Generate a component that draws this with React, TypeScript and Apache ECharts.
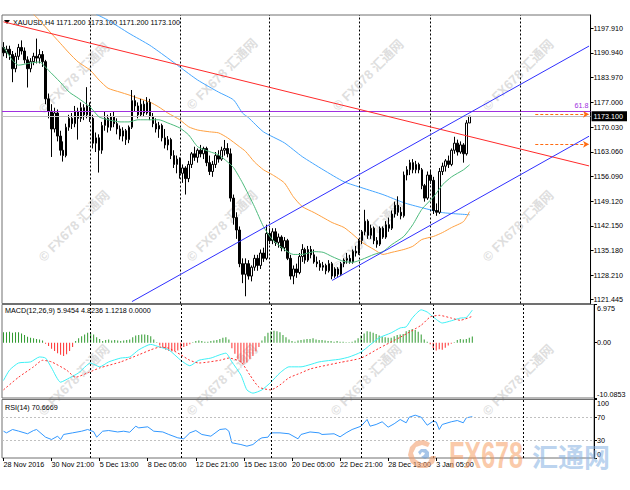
import React, { useEffect, useRef } from "react";
import * as echarts from "echarts";

// ---------------- data ----------------
const symbolTitle = "XAUUSD,H4 1171.200 1173.100 1171.200 1173.100";
const macdTitle = "MACD(12,26,9) 5.9454 4.8236 1.1218 0.0000";
const rsiTitle = "RSI(14) 70.6669";
const fibLabel = "61.8";
const xTickLabels = [
  "28 Nov 2016", "30 Nov 21:00", "5 Dec 13:00", "8 Dec 05:00", "12 Dec 21:00",
  "15 Dec 13:00", "20 Dec 05:00", "22 Dec 21:00", "28 Dec 13:00", "3 Jan 05:00",
];
const priceTicks = [1121.445, 1128.21, 1135.18, 1142.15, 1149.12, 1156.09, 1163.06, 1170.03, 1177.0, 1183.97, 1190.94, 1197.91];
const lastPrice = 1173.1;
const fibLevel = 1174.57;
const arrowLevels = [1173.64, 1165.18];
const macdTicks = [-10.0853, 0, 6.975];
const macdTickLabels = ["-10.0853", "0.00", "6.975"];
const rsiTicks = [0, 30, 70, 100];
const rsiLevels = [30, 70];
const gridLineBars = [29, 59, 89, 119, 143, 173];

// [open, high, low, close]
const ohlc: number[][] = [
  [1192.5, 1194.0, 1190.0, 1191.0], [1191.0, 1193.0, 1189.5, 1192.0], [1192.0, 1193.0, 1189.0, 1190.5],
  [1190.5, 1191.5, 1182.7, 1186.5], [1186.5, 1191.0, 1185.5, 1190.0], [1190.0, 1193.5, 1189.0, 1192.5],
  [1192.5, 1194.5, 1190.5, 1191.5], [1191.5, 1192.5, 1188.0, 1189.0], [1189.0, 1190.0, 1181.2, 1186.5],
  [1186.5, 1189.5, 1185.5, 1188.5], [1188.5, 1191.0, 1187.5, 1190.0], [1190.0, 1195.0, 1188.0, 1189.5],
  [1189.5, 1192.0, 1188.0, 1190.5], [1190.5, 1191.5, 1187.0, 1188.5], [1188.5, 1189.0, 1176.5, 1178.0],
  [1178.0, 1179.5, 1172.5, 1174.5], [1174.5, 1176.5, 1161.6, 1169.5], [1169.5, 1175.5, 1168.5, 1174.0],
  [1174.0, 1175.0, 1166.0, 1167.5], [1167.5, 1169.0, 1162.0, 1163.5], [1163.5, 1166.0, 1160.3, 1162.0],
  [1162.0, 1171.0, 1161.5, 1170.0], [1170.0, 1173.5, 1169.0, 1172.5], [1172.5, 1174.0, 1169.5, 1171.0],
  [1171.0, 1176.0, 1170.0, 1174.5], [1174.5, 1175.5, 1166.5, 1172.5], [1172.5, 1177.0, 1171.5, 1175.5],
  [1175.5, 1176.5, 1172.0, 1173.5], [1173.5, 1181.3, 1172.5, 1176.0], [1176.0, 1177.0, 1171.5, 1172.5],
  [1172.5, 1173.5, 1164.0, 1165.5], [1165.5, 1168.5, 1163.0, 1167.0], [1167.0, 1168.0, 1157.2, 1163.5],
  [1163.5, 1171.5, 1162.5, 1170.5], [1170.5, 1174.5, 1169.0, 1172.5], [1172.5, 1173.5, 1168.5, 1170.0],
  [1170.0, 1174.0, 1169.0, 1173.0], [1173.0, 1174.5, 1170.0, 1171.0], [1171.0, 1172.5, 1168.0, 1169.5],
  [1169.5, 1170.5, 1166.5, 1167.5], [1167.5, 1170.0, 1166.0, 1169.0], [1169.0, 1169.5, 1165.0, 1166.5],
  [1166.5, 1170.5, 1165.5, 1170.0], [1170.0, 1180.5, 1169.5, 1177.5], [1177.5, 1179.0, 1174.5, 1176.0],
  [1176.0, 1177.0, 1172.5, 1173.5], [1173.5, 1178.0, 1173.0, 1176.5], [1176.5, 1177.5, 1173.0, 1174.0],
  [1174.0, 1178.5, 1173.5, 1177.0], [1177.0, 1178.0, 1172.0, 1173.0], [1173.0, 1174.0, 1170.0, 1171.0],
  [1171.0, 1172.5, 1168.5, 1169.5], [1169.5, 1171.5, 1167.0, 1170.5], [1170.5, 1171.0, 1166.0, 1167.0],
  [1167.0, 1169.5, 1164.0, 1165.0], [1165.0, 1167.5, 1163.5, 1166.5], [1166.5, 1167.0, 1161.0, 1162.0],
  [1162.0, 1163.5, 1158.5, 1159.5], [1159.5, 1162.0, 1157.0, 1161.0], [1161.0, 1161.5, 1155.5, 1157.0],
  [1157.0, 1159.5, 1154.3, 1158.5], [1158.5, 1159.0, 1151.0, 1155.5], [1155.5, 1160.5, 1154.5, 1159.5],
  [1159.5, 1163.0, 1158.5, 1162.5], [1162.5, 1164.5, 1160.5, 1161.5], [1161.5, 1164.0, 1160.0, 1163.5],
  [1163.5, 1165.0, 1161.5, 1162.5], [1162.5, 1164.5, 1161.0, 1164.0], [1164.0, 1164.5, 1159.0, 1160.0],
  [1160.0, 1162.0, 1156.5, 1157.5], [1157.5, 1160.5, 1156.0, 1159.5], [1159.5, 1163.0, 1158.5, 1162.0],
  [1162.0, 1163.5, 1160.0, 1161.0], [1161.0, 1164.5, 1160.5, 1163.5], [1163.5, 1166.4, 1162.0, 1164.0],
  [1164.0, 1165.5, 1161.5, 1162.5], [1162.5, 1164.0, 1149.0, 1150.0], [1150.0, 1151.0, 1142.5, 1144.5],
  [1144.5, 1146.0, 1138.5, 1141.0], [1141.0, 1142.0, 1130.5, 1131.5], [1131.5, 1133.0, 1126.0, 1128.5],
  [1128.5, 1133.0, 1122.3, 1131.5], [1131.5, 1132.5, 1127.0, 1128.0], [1128.0, 1131.0, 1126.5, 1130.5],
  [1130.5, 1134.0, 1129.5, 1133.0], [1133.0, 1134.0, 1129.5, 1131.0], [1131.0, 1135.5, 1130.0, 1134.5],
  [1134.5, 1136.0, 1132.0, 1133.0], [1133.0, 1142.5, 1132.5, 1140.0], [1140.0, 1141.5, 1137.0, 1138.0],
  [1138.0, 1141.5, 1137.0, 1140.5], [1140.5, 1141.5, 1136.5, 1137.5], [1137.5, 1140.0, 1136.0, 1139.0],
  [1139.0, 1139.5, 1135.0, 1136.0], [1136.0, 1139.0, 1135.0, 1138.0], [1138.0, 1138.5, 1132.5, 1133.0],
  [1133.0, 1134.0, 1127.0, 1128.0], [1128.0, 1131.0, 1125.7, 1130.0], [1130.0, 1131.5, 1127.5, 1129.0],
  [1129.0, 1134.5, 1128.5, 1133.5], [1133.5, 1137.0, 1132.0, 1135.5], [1135.5, 1136.0, 1131.5, 1132.5],
  [1132.5, 1136.5, 1132.0, 1135.5], [1135.5, 1136.5, 1133.0, 1134.0], [1134.0, 1135.5, 1131.5, 1132.0],
  [1132.0, 1133.5, 1130.5, 1131.5], [1131.5, 1132.5, 1129.5, 1130.5], [1130.5, 1132.0, 1129.5, 1131.0],
  [1131.0, 1131.5, 1128.5, 1129.5], [1129.5, 1132.5, 1129.0, 1131.5], [1131.5, 1132.0, 1127.1, 1128.0],
  [1128.0, 1130.5, 1127.5, 1130.0], [1130.0, 1130.5, 1127.8, 1128.5], [1128.5, 1132.0, 1128.0, 1131.5],
  [1131.5, 1133.0, 1130.5, 1132.5], [1132.5, 1134.5, 1131.5, 1133.0], [1133.0, 1134.0, 1131.5, 1132.0],
  [1132.0, 1135.5, 1131.5, 1135.0], [1135.0, 1136.5, 1133.5, 1134.5], [1134.5, 1138.5, 1134.0, 1138.0],
  [1138.0, 1141.0, 1137.0, 1140.5], [1140.5, 1146.7, 1139.5, 1143.5], [1143.5, 1144.0, 1138.5, 1139.5],
  [1139.5, 1142.5, 1138.5, 1141.5], [1141.5, 1142.0, 1137.0, 1138.0], [1138.0, 1139.0, 1136.0, 1137.0],
  [1137.0, 1142.0, 1136.5, 1141.5], [1141.5, 1142.0, 1138.5, 1139.0], [1139.0, 1143.5, 1138.5, 1142.5],
  [1142.5, 1144.5, 1140.5, 1141.5], [1141.5, 1146.5, 1141.0, 1145.5], [1145.5, 1149.0, 1144.5, 1148.0],
  [1148.0, 1150.5, 1145.0, 1146.0], [1146.0, 1147.5, 1144.0, 1145.0], [1145.0, 1157.5, 1144.5, 1156.5],
  [1156.5, 1159.0, 1155.0, 1158.0], [1158.0, 1160.8, 1156.5, 1160.0], [1160.0, 1161.0, 1157.0, 1158.0],
  [1158.0, 1160.5, 1157.0, 1159.5], [1159.5, 1160.0, 1157.0, 1158.0], [1158.0, 1158.5, 1152.5, 1153.5],
  [1153.5, 1154.0, 1149.0, 1150.0], [1150.0, 1157.5, 1149.5, 1156.5], [1156.5, 1158.0, 1154.0, 1155.0],
  [1155.0, 1156.0, 1145.5, 1146.5], [1146.5, 1148.5, 1145.0, 1146.0], [1146.0, 1158.5, 1145.5, 1157.5],
  [1157.5, 1160.0, 1156.5, 1159.0], [1159.0, 1161.0, 1157.5, 1160.5], [1160.5, 1162.0, 1158.5, 1159.5],
  [1159.5, 1164.0, 1159.0, 1163.5], [1163.5, 1167.3, 1162.5, 1165.5], [1165.5, 1166.5, 1162.0, 1163.0],
  [1163.0, 1166.0, 1162.5, 1165.0], [1165.0, 1165.5, 1160.0, 1162.5], [1162.5, 1172.0, 1162.0, 1171.2],
  [1171.2, 1173.1, 1171.2, 1173.1],
];

// moving averages, [bar index, price]
const maGreen = [
  [0, 1192.6], [3, 1188.9], [5, 1187.5], [9, 1188.1], [12, 1188.4], [15, 1186.1], [19, 1182.7], [22, 1179.9],
  [25, 1178.2], [29, 1175.7], [32, 1172.9], [35, 1172.1], [39, 1171.5], [42, 1171.5], [45, 1172.1], [49, 1172.1],
  [52, 1172.1], [55, 1171.2], [59, 1169.8], [62, 1167.8], [65, 1164.5], [69, 1163.1], [72, 1162.2], [75, 1160.2],
  [77, 1158.6], [80, 1154.3], [84, 1147.6], [87, 1142.0], [90, 1138.3], [94, 1135.5], [97, 1134.1], [100, 1134.1],
  [104, 1134.9], [107, 1134.7], [110, 1133.5], [114, 1132.1], [117, 1131.9], [120, 1132.7], [124, 1134.1],
  [127, 1134.9], [130, 1136.9], [134, 1139.2], [137, 1142.5], [140, 1146.8], [144, 1150.4], [147, 1153.8],
  [150, 1156.0], [154, 1158.0], [156, 1159.4],
];
const maOrange = [
  [10, 1201.9], [12, 1200.2], [15, 1197.4], [19, 1193.7], [22, 1190.9], [25, 1188.4], [29, 1186.1], [32, 1183.3],
  [35, 1181.0], [39, 1179.9], [42, 1179.1], [45, 1178.2], [49, 1177.1], [52, 1175.7], [55, 1174.0], [59, 1172.1],
  [62, 1170.1], [65, 1169.2], [69, 1168.7], [72, 1168.4], [75, 1167.0], [79, 1164.5], [81, 1163.2], [84, 1160.2],
  [87, 1158.0], [90, 1156.6], [94, 1154.3], [97, 1150.4], [100, 1147.6], [104, 1145.9], [107, 1144.5],
  [110, 1143.1], [114, 1141.7], [117, 1139.7], [120, 1137.5], [124, 1135.5], [127, 1134.1], [130, 1134.7],
  [134, 1135.5], [137, 1136.4], [140, 1138.3], [144, 1139.2], [147, 1140.3], [150, 1141.7], [154, 1143.4],
  [156, 1146.2],
];
const maBlue = [
  [31, 1201.9], [35, 1200.2], [42, 1196.5], [49, 1193.1], [55, 1189.5], [59, 1187.0], [65, 1183.3], [72, 1179.9],
  [77, 1177.7], [80, 1174.0], [82, 1172.7], [87, 1168.7], [94, 1165.6], [100, 1161.7], [107, 1158.0],
  [114, 1154.6], [120, 1152.9], [127, 1151.0], [134, 1148.7], [140, 1147.3], [147, 1145.9], [156, 1145.3],
];

// trend lines, [bar index, price]
const redTrend = [[0, 1199.73], [196, 1159.08]];
const channelUpper = [[43, 1120.8], [196, 1192.9]];
const channelLower = [[110, 1126.77], [196, 1167.46]];

// MACD
const macdHist = [
  1.9, 1.9, 2.0, 1.8, 1.9, 1.9, 1.7, 1.4, 1.1, 0.9,
  0.8, 0.7, 0.6, 0.4, -0.2, -0.6, -1.1, -1.5, -1.9, -2.2,
  -2.4, -2.1, -1.5, -0.8, 0.3, 0.8, 1.2, 1.5, 1.8, 1.8,
  1.5, 1.0, 0.7, 0.3, 0.5, 0.6, 0.4, 0.5, 0.4, 0.3,
  0.4, 0.5, 0.6, 1.0, 1.3, 1.4, 1.5, 1.5, 1.4, 1.2,
  0.6, 0.1, -0.5, -0.9, -1.3, -1.5, -1.6, -1.5, -1.4, -1.1,
  -0.8, -0.6, -0.3, 0.1, 0.3, 0.4, 0.3, 0.2, 0.2, 0.3,
  0.4, 0.5, 0.7, 0.9, 1.0, 0.6, -1.0, -2.0, -3.0, -3.6,
  -3.8, -3.6, -3.0, -2.4, -1.6, -0.8, 0.4, 1.2, 1.8, 2.1,
  2.2, 2.1, 1.9, 1.4, 1.0, 0.6, 0.3, 0.2, 0.4, 0.5,
  0.6, 0.7, 0.7, 0.8, 0.6, 0.5, 0.5, 0.4, 0.3, 0.3,
  0.2, 0.3, 0.2, 0.2, 0.1, 0.1, 0.2, 0.4, 0.8, 1.3,
  1.7, 2.1, 2.0, 1.8, 1.6, 1.3, 1.1, 1.0, 0.9, 0.9,
  1.2, 1.4, 1.5, 1.6, 2.1, 2.3, 2.5, 2.3, 2.0, 1.5,
  0.6, 0.2, -0.3, -1.0, -1.4, -1.2, -1.3, -0.9, -0.5, -0.2,
  0.1, 0.5, 0.7, 0.6, 0.7, 0.9, 1.12,
];
const macdLine = [
  [0, -6.9], [2, -5.0], [5, -3.7], [9, -3.5], [12, -2.6], [14, -2.8], [16, -4.6], [19, -7.2], [22, -6.4],
  [25, -5.5], [29, -3.7], [32, -4.4], [35, -3.5], [39, -2.8], [42, -2.6], [45, -1.3], [49, -0.3], [52, -0.8],
  [55, -1.3], [59, -3.2], [62, -4.2], [65, -3.2], [69, -2.8], [72, -2.2], [74, -1.9], [76, -3.5], [79, -5.9],
  [81, -8.6], [83, -9.2], [86, -8.6], [89, -7.2], [92, -5.5], [95, -4.4], [99, -4.4], [102, -4.0], [105, -3.5],
  [109, -3.2], [112, -3.0], [115, -2.6], [119, -1.7], [122, -0.4], [125, 0.9], [129, 1.8], [132, 2.7],
  [134, 2.9], [136, 4.5], [139, 6.0], [141, 5.6], [143, 4.7], [146, 3.6], [149, 4.0], [152, 4.5], [154, 4.6],
  [156, 5.9454],
];
const signalLine = [
  [0, -8.6], [5, -6.3], [10, -4.4], [13, -3.2], [16, -3.5], [21, -5.0], [24, -6.3], [28, -5.5], [32, -4.6],
  [39, -3.5], [45, -2.2], [49, -1.3], [52, -0.8], [55, -1.0], [59, -2.2], [62, -3.2], [65, -3.7], [72, -3.2],
  [75, -2.8], [79, -3.5], [82, -5.9], [85, -8.1], [89, -8.6], [92, -7.7], [95, -6.4], [99, -5.5], [102, -4.8],
  [105, -4.4], [112, -3.6], [119, -2.8], [125, -1.0], [132, 1.0], [139, 3.2], [142, 4.7], [145, 5.0],
  [149, 4.5], [152, 4.1], [156, 4.8236],
];

// RSI(14)
const rsiLine = [
  [0, 45.8], [1, 43.0], [3, 48.7], [5, 46.0], [8, 41.4], [10, 47.0], [11, 48.7], [14, 35.6], [16, 31.6],
  [18, 37.3], [19, 31.6], [20, 40.2], [23, 43.0], [26, 45.8], [28, 48.7], [30, 45.0], [31, 35.6], [33, 45.8],
  [35, 47.0], [38, 44.5], [40, 45.8], [42, 44.0], [44, 54.4], [45, 51.5], [48, 53.3], [50, 45.8], [53, 44.5],
  [55, 40.2], [58, 34.5], [60, 32.8], [62, 43.0], [64, 47.0], [66, 40.2], [69, 37.3], [72, 48.7], [74, 49.9],
  [75, 45.8], [76, 26.0], [79, 23.0], [81, 20.2], [83, 23.0], [85, 31.6], [86, 34.5], [88, 35.6], [89, 43.0],
  [92, 43.0], [95, 41.4], [98, 32.8], [99, 40.2], [102, 44.5], [105, 43.0], [106, 40.2], [110, 41.4],
  [112, 36.2], [114, 43.0], [116, 48.7], [119, 54.4], [121, 65.8], [122, 54.4], [124, 57.3], [126, 61.9],
  [128, 52.7], [130, 58.5], [132, 65.8], [134, 60.2], [135, 69.7], [137, 73.2], [139, 69.7], [141, 56.1],
  [143, 62.9], [144, 61.5], [145, 48.7], [146, 57.3], [149, 61.9], [151, 64.1], [153, 60.2], [154, 68.7],
  [156, 70.6669],
];

// ---------------- chart ----------------
const SLOTS = 197;
const FONT = "'Liberation Sans', Arial, sans-serif";
const FS = 7.2;
const categories = Array.from({ length: SLOTS }, (_, i) => String(i));
const candleData = ohlc.map(([o, h, l, c]) => [o, c, l, h]);
const showLabel = (index: number) => index % 16 === 0 && index / 16 < xTickLabels.length;
const vLineStyle = { color: "#000", type: [2, 2], width: 1 };
const vLines = gridLineBars.map((b) => ({ xAxis: b, lineStyle: vLineStyle }));

const GRID_L = 2;
const GRID_R = 36;

function xAxisFor(gridIndex: number, bottom: boolean): any {
  return {
    type: "category",
    gridIndex,
    data: categories,
    boundaryGap: true,
    axisLine: { show: false },
    splitLine: { show: false },
    axisTick: bottom
      ? { show: true, alignWithLabel: true, interval: showLabel, length: 3, lineStyle: { color: "#000" } }
      : { show: false },
    axisLabel: bottom
      ? {
          show: true,
          interval: showLabel,
          formatter: (_v: string, index: number) => xTickLabels[index / 16] ?? "",
          align: "left",
          margin: 3,
          fontSize: FS,
          fontFamily: FONT,
          color: "#000",
        }
      : { show: false },
  };
}

const priceLabelValues = [...priceTicks.slice(0, 8), lastPrice, ...priceTicks.slice(8)];

const watermarkPos = [
  [74, 78], [222, 74], [368, 75], [518, 75],
  [74, 226], [222, 226], [368, 236], [518, 226],
  [74, 380], [222, 380], [366, 380], [518, 380],
];

function buildOption(): any {
  const watermarks = watermarkPos.map(([x, y]) => ({
    type: "text",
    x,
    y,
    rotation: Math.PI / 4,
    z: -10,
    silent: true,
    style: {
      text: "© FX678 汇通网",
      fill: "rgba(190,190,190,0.5)",
      font: "bold 13px 'Liberation Sans', 'Noto Sans CJK SC', sans-serif",
      align: "center",
      verticalAlign: "middle",
    },
  }));

  return {
    animation: false,
    backgroundColor: "#ffffff",
    grid: [
      { left: GRID_L, right: GRID_R, top: 15, height: 288.5, show: true, borderColor: "#707070", borderWidth: 1 },
      { left: GRID_L, right: GRID_R, top: 304.5, height: 93.5, show: true, borderColor: "#707070", borderWidth: 1 },
      { left: GRID_L, right: GRID_R, top: 399.5, height: 58.5, show: true, borderColor: "#707070", borderWidth: 1 },
    ],
    xAxis: [xAxisFor(0, false), xAxisFor(1, false), xAxisFor(2, true)],
    yAxis: [
      {
        type: "value",
        gridIndex: 0,
        position: "right",
        min: 1120.26,
        max: 1201.66,
        axisLine: { show: true, lineStyle: { color: "#000" } },
        axisTick: { show: true, length: 3, customValues: priceTicks, lineStyle: { color: "#000" } },
        splitLine: { show: false },
        axisLabel: {
          show: true,
          customValues: priceLabelValues,
          margin: 1,
          fontSize: FS,
          fontFamily: FONT,
          color: "#000",
          formatter: (v: number) =>
            v === lastPrice ? `{cur|${v.toFixed(3)}}` : `{n|${v.toFixed(3)}}`,
          rich: {
            n: { padding: [0, 0, 0, 2], fontSize: FS, fontFamily: FONT, color: "#000" },
            cur: {
              backgroundColor: "#000",
              color: "#fff",
              fontSize: FS,
              fontFamily: FONT,
              padding: [2, 4, 1, 2],
            },
          },
        },
      },
      {
        type: "value",
        gridIndex: 1,
        position: "right",
        min: macdTicks[0],
        max: macdTicks[2],
        axisLine: { show: true, lineStyle: { color: "#000" } },
        axisTick: { show: true, length: 3, customValues: macdTicks, lineStyle: { color: "#000" } },
        splitLine: { show: false },
        axisLabel: {
          show: true,
          customValues: macdTicks,
          margin: 3,
          fontSize: FS,
          fontFamily: FONT,
          color: "#000",
          verticalAlignMinLabel: "bottom",
          verticalAlignMaxLabel: "top",
          formatter: (v: number) => macdTickLabels[macdTicks.indexOf(v)] ?? "",
        },
      },
      {
        type: "value",
        gridIndex: 2,
        position: "right",
        min: 0,
        max: 100,
        axisLine: { show: true, lineStyle: { color: "#000" } },
        axisTick: { show: true, length: 3, customValues: rsiTicks, lineStyle: { color: "#000" } },
        splitLine: { show: false },
        axisLabel: {
          show: true,
          customValues: rsiTicks,
          margin: 3,
          fontSize: FS,
          fontFamily: FONT,
          color: "#000",
          verticalAlignMinLabel: "bottom",
          verticalAlignMaxLabel: "top",
          formatter: (v: number) => String(v),
        },
      },
    ],
    series: [
      {
        type: "line",
        xAxisIndex: 0,
        yAxisIndex: 0,
        data: maBlue,
        symbol: "none",
        silent: true,
        smooth: 0.2,
        lineStyle: { color: "#46a6ff", width: 1 },
        z: 3,
      },
      {
        type: "line",
        xAxisIndex: 0,
        yAxisIndex: 0,
        data: maOrange,
        symbol: "none",
        silent: true,
        smooth: 0.2,
        lineStyle: { color: "#ffa040", width: 1 },
        z: 3,
      },
      {
        type: "candlestick",
        xAxisIndex: 0,
        yAxisIndex: 0,
        data: candleData,
        barWidth: 2,
        silent: true,
        z: 4,
        itemStyle: {
          color: "#ffffff",
          color0: "#000000",
          borderColor: "#000000",
          borderColor0: "#000000",
          borderWidth: 1,
        },
        markLine: {
          silent: true,
          symbol: "none",
          animation: false,
          label: { show: false },
          data: [
            {
              yAxis: fibLevel,
              lineStyle: { color: "#a030e0", width: 1, type: "solid" },
              label: {
                show: true,
                position: "insideEndTop",
                formatter: fibLabel,
                color: "#a030e0",
                fontSize: FS,
                fontFamily: FONT,
                distance: 2,
              },
            },
            { yAxis: lastPrice, lineStyle: { color: "#c0c0c0", width: 1, type: "solid" } },
            ...vLines,
            ...arrowLevels.map((lv) => [
              { coord: [178, lv], symbol: "none", lineStyle: { color: "#ff6a10", width: 1, type: [3, 2] } },
              { coord: [196, lv], symbol: "arrow", symbolSize: [5, 6] },
            ]),
          ],
        },
      },
      {
        type: "line",
        xAxisIndex: 0,
        yAxisIndex: 0,
        data: maGreen,
        symbol: "none",
        silent: true,
        smooth: 0.2,
        lineStyle: { color: "#4cba7c", width: 1 },
        z: 5,
      },
      {
        type: "line",
        xAxisIndex: 0,
        yAxisIndex: 0,
        data: redTrend,
        symbol: "none",
        silent: true,
        lineStyle: { color: "#ff2a2a", width: 1 },
        z: 6,
      },
      {
        type: "line",
        xAxisIndex: 0,
        yAxisIndex: 0,
        data: channelUpper,
        symbol: "none",
        silent: true,
        lineStyle: { color: "#3030ff", width: 1 },
        z: 6,
      },
      {
        type: "line",
        xAxisIndex: 0,
        yAxisIndex: 0,
        data: channelLower,
        symbol: "none",
        silent: true,
        lineStyle: { color: "#3030ff", width: 1 },
        z: 6,
      },
      // MACD panel
      {
        type: "bar",
        xAxisIndex: 1,
        yAxisIndex: 1,
        barWidth: 1,
        silent: true,
        data: macdHist.map((v) => ({ value: v, itemStyle: { color: v >= 0 ? "#2f9a2f" : "#ff3030" } })),
        markLine: {
          silent: true,
          symbol: "none",
          label: { show: false },
          data: vLines,
        },
      },
      {
        type: "line",
        xAxisIndex: 1,
        yAxisIndex: 1,
        data: macdLine,
        symbol: "none",
        silent: true,
        smooth: 0.2,
        lineStyle: { color: "#3ff0f5", width: 1 },
      },
      {
        type: "line",
        xAxisIndex: 1,
        yAxisIndex: 1,
        data: signalLine,
        symbol: "none",
        silent: true,
        smooth: 0.2,
        lineStyle: { color: "#ff3030", width: 1, type: [2, 2] },
      },
      // RSI panel
      {
        type: "line",
        xAxisIndex: 2,
        yAxisIndex: 2,
        data: rsiLine,
        symbol: "none",
        silent: true,
        lineStyle: { color: "#3398ff", width: 1 },
        markLine: {
          silent: true,
          symbol: "none",
          label: { show: false },
          data: [
            ...rsiLevels.map((lv) => ({ yAxis: lv, lineStyle: { color: "#c0c0c0", width: 1, type: [2, 2] } })),
            ...vLines,
          ],
        },
      },
    ],
    graphic: [
      ...watermarks,
      {
        type: "polygon",
        silent: true,
        shape: { points: [[4, 20], [10, 20], [7, 24]] },
        style: { fill: "#000" },
      },
      {
        type: "text",
        x: 13,
        y: 22,
        silent: true,
        style: { text: symbolTitle, font: `${FS}px ${FONT}`, fill: "#000", align: "left", verticalAlign: "middle" },
      },
      {
        type: "text",
        x: 5,
        y: 310.5,
        silent: true,
        style: { text: macdTitle, font: `${FS}px ${FONT}`, fill: "#000", align: "left", verticalAlign: "middle" },
      },
      {
        type: "text",
        x: 5,
        y: 407,
        silent: true,
        style: { text: rsiTitle, font: `${FS}px ${FONT}`, fill: "#000", align: "left", verticalAlign: "middle" },
      },
      // big logo: swirl mark
      {
        type: "polygon",
        silent: true,
        z: 50,
        shape: {
          points: [
            [430, 443], [424, 440], [416, 441], [410, 447], [408, 455], [411, 463], [418, 468], [427, 468],
            [434, 463], [436, 456], [431, 456], [428, 462], [421, 463], [415, 459], [413, 453], [416, 447],
            [422, 445], [428, 447],
          ],
        },
        style: { fill: "#f2a070", opacity: 0.6 },
      },
      {
        type: "polygon",
        silent: true,
        z: 50,
        shape: {
          points: [
            [418, 452], [421, 449], [426, 449], [429, 452], [429, 457], [425, 459], [421, 457], [424, 455],
            [425, 453], [422, 452], [420, 455],
          ],
        },
        style: { fill: "#6a9fd8", opacity: 0.6 },
      },
      {
        type: "text",
        silent: true,
        z: 50,
        x: 449,
        y: 455,
        scaleX: 0.68,
        style: {
          text: "FX678",
          font: "bold 37px 'Liberation Sans', sans-serif",
          fill: "rgba(245,150,85,0.5)",
          align: "left",
          verticalAlign: "middle",
        },
      },
      {
        type: "text",
        silent: true,
        z: 50,
        x: 532,
        y: 455,
        style: {
          text: "汇通网",
          font: "bold 26px 'Noto Sans CJK SC', sans-serif",
          fill: "rgba(130,175,225,0.55)",
          align: "left",
          verticalAlign: "middle",
        },
      },
    ],
  };
}

export default function App() {
  const ref = useRef<HTMLDivElement>(null);
  useEffect(() => {
    document.body.style.margin = "0";
    const chart = echarts.init(ref.current as HTMLDivElement, null, { renderer: "svg" });
    chart.setOption(buildOption());
    return () => chart.dispose();
  }, []);
  return (
    <div
      ref={ref}
      style={{ width: 630, height: 490, position: "absolute", left: 0, top: 0, background: "#fff" }}
    />
  );
}
